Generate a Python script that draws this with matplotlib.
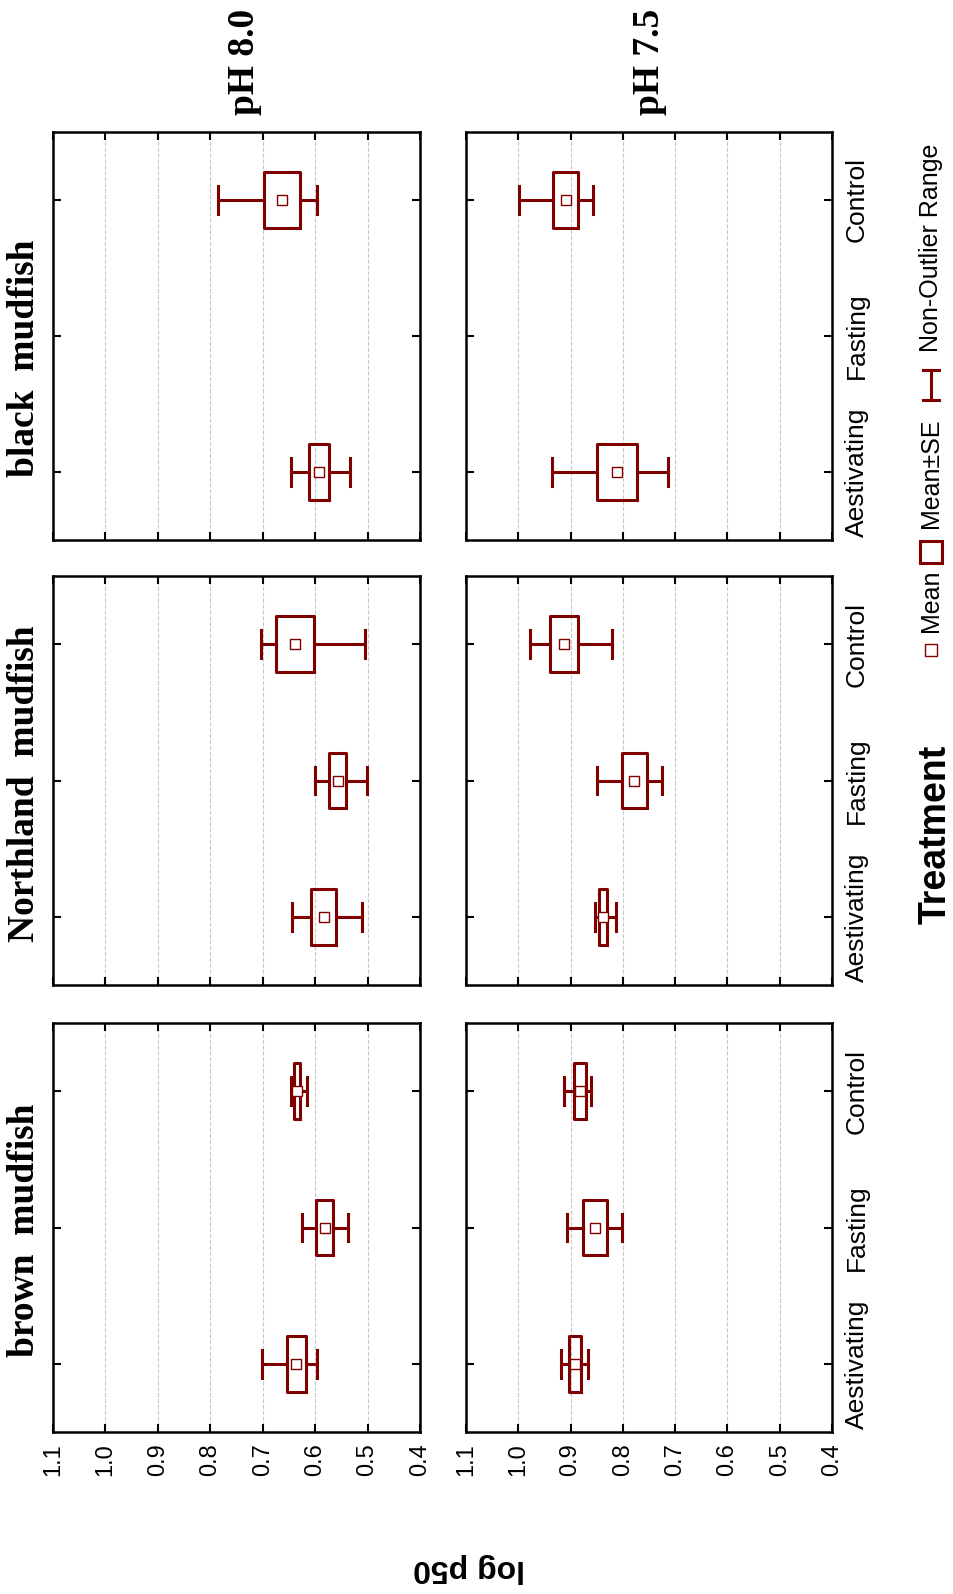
import matplotlib
matplotlib.use('Agg')
import matplotlib.pyplot as plt
from matplotlib.patches import Rectangle
from matplotlib.lines import Line2D
import numpy as np

# categories
treatments = ['Aestivating', 'Fasting', 'Control']
species = ['black  mudfish', 'Northland  mudfish', 'brown  mudfish']   # top -> bottom
ph_labels = ['pH 8.0', 'pH 7.5']                                     # left -> right
value_ticks = [1.1, 1.0, 0.9, 0.8, 0.7, 0.6, 0.5, 0.4]

# mean, SE and non-outlier range per treatment (Aestivating, Fasting, Control); nan = no data
# pH 8.0
mean_80 = {
    'black  mudfish':     [0.592, np.nan, 0.663],
    'Northland  mudfish': [0.584, 0.557, 0.639],
    'brown  mudfish':     [0.636, 0.582, 0.635],
}
se_80 = {
    'black  mudfish':     [0.019, np.nan, 0.035],
    'Northland  mudfish': [0.023, 0.016, 0.036],
    'brown  mudfish':     [0.018, 0.016, 0.006],
}
lo_80 = {
    'black  mudfish':     [0.533, np.nan, 0.597],
    'Northland  mudfish': [0.511, 0.501, 0.505],
    'brown  mudfish':     [0.596, 0.538, 0.615],
}
hi_80 = {
    'black  mudfish':     [0.647, np.nan, 0.786],
    'Northland  mudfish': [0.644, 0.600, 0.704],
    'brown  mudfish':     [0.701, 0.625, 0.647],
}
# pH 7.5
mean_75 = {
    'black  mudfish':     [0.811, np.nan, 0.909],
    'Northland  mudfish': [0.838, 0.778, 0.912],
    'brown  mudfish':     [0.892, 0.854, 0.882],
}
se_75 = {
    'black  mudfish':     [0.039, np.nan, 0.024],
    'Northland  mudfish': [0.007, 0.024, 0.027],
    'brown  mudfish':     [0.011, 0.023, 0.011],
}
lo_75 = {
    'black  mudfish':     [0.713, np.nan, 0.857],
    'Northland  mudfish': [0.814, 0.726, 0.821],
    'brown  mudfish':     [0.867, 0.801, 0.861],
}
hi_75 = {
    'black  mudfish':     [0.935, np.nan, 0.998],
    'Northland  mudfish': [0.853, 0.850, 0.977],
    'brown  mudfish':     [0.918, 0.906, 0.913],
}

RED = '#800000'
W, H = 954, 1594
SANS = ['Liberation Sans', 'DejaVu Sans']
SERIF = ['Liberation Serif', 'DejaVu Serif']


def fx(x):
    return x / W


def fy(y):
    return 1 - y / H


fig = plt.figure(figsize=(W / 100, H / 100), dpi=100)
fig.patch.set_facecolor('white')

col_x = [(53, 420), (466, 832)]
row_y = [(132, 540), (576, 985), (1023, 1432)]
datasets = [(mean_80, se_80, lo_80, hi_80), (mean_75, se_75, lo_75, hi_75)]

for r, sp in enumerate(species):
    for c, (mean_d, se_d, lo_d, hi_d) in enumerate(datasets):
        x0, x1 = col_x[c]
        y0, y1 = row_y[r]
        ax = fig.add_axes([fx(x0), fy(y1), (x1 - x0) / W, (y1 - y0) / H])

        stats, pos = [], []
        for i, t in enumerate(treatments):
            m = mean_d[sp][i]
            if np.isnan(m):
                continue
            s = se_d[sp][i]
            stats.append({'med': m, 'q1': m - s, 'q3': m + s, 'mean': m,
                          'whislo': lo_d[sp][i], 'whishi': hi_d[sp][i], 'fliers': []})
            pos.append(i + 1)

        ax.bxp(stats, positions=pos, widths=0.41, orientation='horizontal',
               showmeans=True, showfliers=False,
               boxprops=dict(color=RED, linewidth=2.2),
               whiskerprops=dict(color=RED, linewidth=2.2),
               capprops=dict(color=RED, linewidth=2.2),
               medianprops=dict(linestyle='none'),
               meanprops=dict(marker='s', markersize=6.5, markerfacecolor='white',
                              markeredgecolor=RED, markeredgewidth=1.0))

        ax.set_xlim(1.1, 0.4)
        ax.set_ylim(0.5, 3.5)
        ax.set_xticks(value_ticks)
        ax.set_xticklabels([f'{v:.1f}' for v in value_ticks])
        ax.set_yticks([1, 2, 3])
        ax.set_yticklabels(treatments)
        ax.xaxis.grid(True, linestyle='--', color='#c8c8c8', linewidth=0.8)
        ax.set_axisbelow(True)
        for spine in ax.spines.values():
            spine.set_linewidth(1.8)
            spine.set_color('black')

        ax.tick_params(axis='both', direction='in', length=6, width=1.5,
                       top=True, bottom=True, left=True, right=True)
        ax.tick_params(axis='x', labelbottom=(r == 2), labeltop=False,
                       labelrotation=90, labelsize=17, pad=8)
        ax.tick_params(axis='y', labelleft=False, labelright=(c == 1),
                       labelrotation=90, labelsize=19, pad=9)
        for lab in ax.get_xticklabels():
            lab.set_family(SANS)
        for lab in ax.get_yticklabels():
            lab.set_family(SANS)
            lab.set_va('center')

    # species title at left of each row
    fig.text(fx(25), fy((row_y[r][0] + row_y[r][1]) / 2 + (22 if r == 0 else 3)), sp,
             rotation=90, ha='center', va='center', fontsize=27,
             fontweight='bold', family=SERIF)

# pH labels above the columns
for c, lab in enumerate(ph_labels):
    fig.text(fx([245, 650][c]), fy(62), lab, rotation=90, ha='center', va='center',
             fontsize=27, fontweight='bold', family=SERIF)

# axis titles
fig.text(fx(469), fy(1568), 'log p50', rotation=180, ha='center', va='center',
         fontsize=23, fontweight='bold', family=SANS)
fig.text(fx(936), fy(834), 'Treatment', rotation=90, ha='center', va='center',
         fontsize=27, fontweight='bold', family=SANS)

# legend (rotated, drawn by hand)
lx = 931
fig.add_artist(Rectangle((fx(lx - 6), fy(656)), 12 / W, 12 / H, transform=fig.transFigure,
                         facecolor='white', edgecolor=RED, linewidth=1.0))
fig.text(fx(lx), fy(601), 'Mean', rotation=90, ha='center', va='center',
         fontsize=18, family=SANS)
fig.add_artist(Rectangle((fx(lx - 11), fy(563)), 22 / W, 22 / H, transform=fig.transFigure,
                         facecolor='white', edgecolor=RED, linewidth=2.2))
fig.text(fx(lx), fy(473), 'Mean±SE', rotation=90, ha='center', va='center',
         fontsize=18, family=SANS)
fig.add_artist(Line2D([fx(lx), fx(lx)], [fy(400), fy(370)], transform=fig.transFigure,
                      color=RED, linewidth=2.2))
for yy in (400, 370):
    fig.add_artist(Line2D([fx(lx - 8), fx(lx + 8)], [fy(yy), fy(yy)],
                          transform=fig.transFigure, color=RED, linewidth=2.2))
fig.text(fx(lx), fy(248), 'Non-Outlier Range', rotation=90, ha='center', va='center',
         fontsize=18, family=SANS)

fig.savefig('out.png', dpi=100, facecolor='white')
